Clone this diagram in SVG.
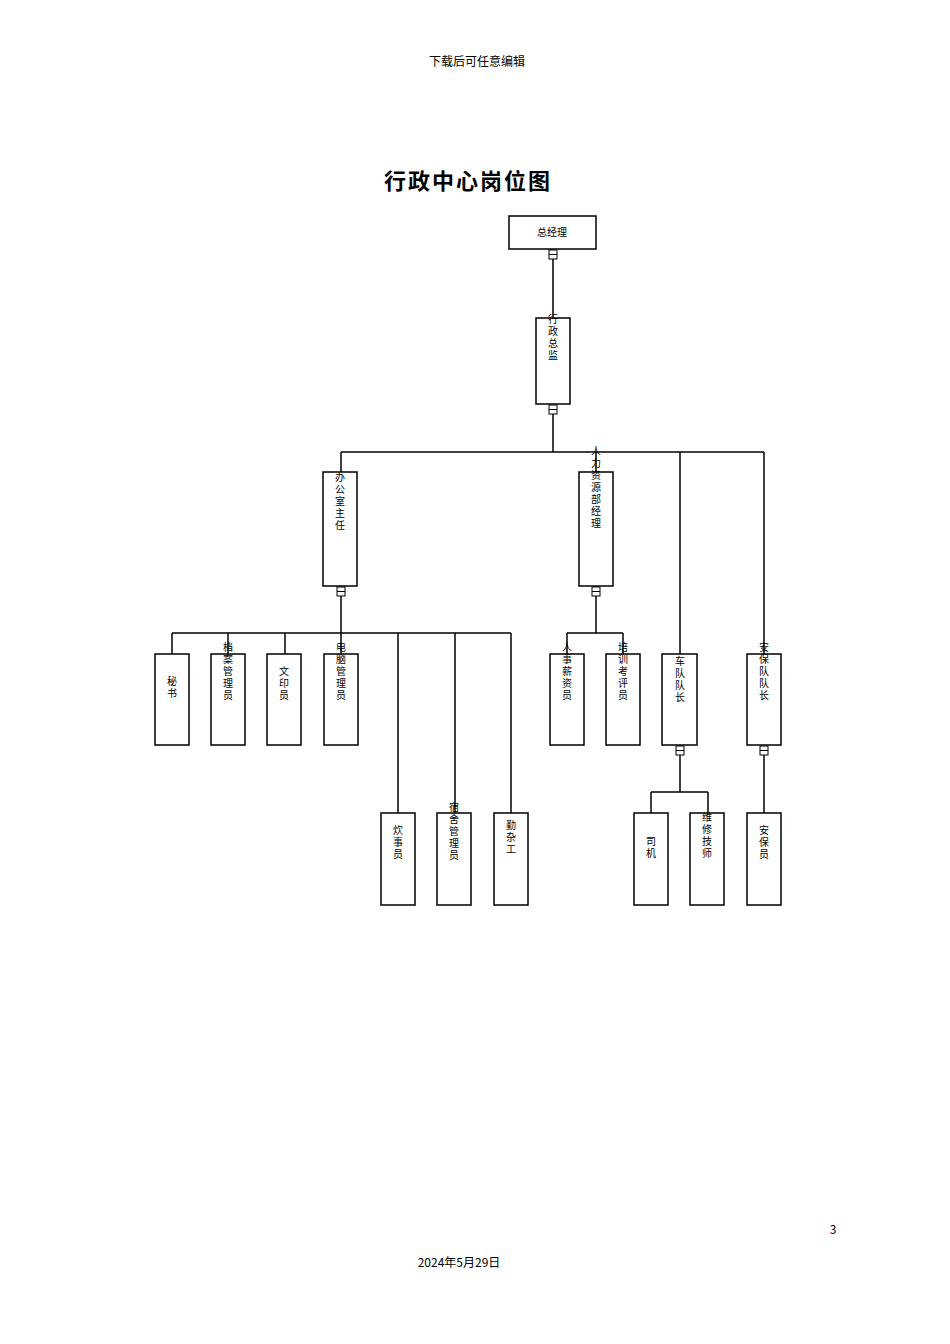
<svg xmlns="http://www.w3.org/2000/svg" width="950" height="1344" viewBox="0 0 950 1344">
<style>
rect.n{fill:#fff;stroke:#000;stroke-width:1.5}
rect.s{fill:#fff;stroke:#000;stroke-width:1}
text{font-family:"Noto Sans CJK SC","Liberation Sans",sans-serif;fill:#000}
.v{font-size:10px;writing-mode:tb;glyph-orientation-vertical:0;text-anchor:middle;letter-spacing:2px}
.c line, .c path{stroke:#000;stroke-width:1.5;fill:none}
</style>
<rect width="950" height="1344" fill="#fff"/>
<text x="477" y="66" font-size="12" text-anchor="middle" fill="#444">下载后可任意编辑</text>
<text x="468" y="189" font-size="22" font-weight="bold" text-anchor="middle" letter-spacing="2">行政中心岗位图</text>
<g class="c">
<line x1="553" y1="259" x2="553" y2="318"/>
<line x1="553" y1="414" x2="553" y2="452"/>
<line x1="341" y1="452" x2="764" y2="452"/>
<line x1="341" y1="452" x2="341" y2="472"/>
<line x1="596" y1="452" x2="596" y2="472"/>
<line x1="680" y1="452" x2="680" y2="654"/>
<line x1="764" y1="452" x2="764" y2="654"/>
<line x1="341" y1="596" x2="341" y2="633"/>
<line x1="172" y1="633" x2="511" y2="633"/>
<line x1="172" y1="633" x2="172" y2="654"/>
<line x1="228" y1="633" x2="228" y2="654"/>
<line x1="285" y1="633" x2="285" y2="654"/>
<line x1="341" y1="633" x2="341" y2="654"/>
<line x1="398" y1="633" x2="398" y2="813"/>
<line x1="455" y1="633" x2="455" y2="813"/>
<line x1="511" y1="633" x2="511" y2="813"/>
<line x1="596" y1="596" x2="596" y2="633"/>
<line x1="567" y1="633" x2="623" y2="633"/>
<line x1="567" y1="633" x2="567" y2="654"/>
<line x1="623" y1="633" x2="623" y2="654"/>
<line x1="680" y1="755" x2="680" y2="792"/>
<line x1="651" y1="792" x2="708" y2="792"/>
<line x1="651" y1="792" x2="651" y2="813"/>
<line x1="708" y1="792" x2="708" y2="813"/>
<line x1="764" y1="755" x2="764" y2="813"/>
</g>
<g id="squares">
<rect class="s" x="549" y="250" width="8" height="9"/><line x1="549" y1="254.5" x2="557" y2="254.5" stroke="#000"/>
<rect class="s" x="549" y="405" width="8" height="9"/><line x1="549" y1="409.5" x2="557" y2="409.5" stroke="#000"/>
<rect class="s" x="337" y="587" width="8" height="9"/><line x1="337" y1="591.5" x2="345" y2="591.5" stroke="#000"/>
<rect class="s" x="592" y="587" width="8" height="9"/><line x1="592" y1="591.5" x2="600" y2="591.5" stroke="#000"/>
<rect class="s" x="676" y="746" width="8" height="9"/><line x1="676" y1="750.5" x2="684" y2="750.5" stroke="#000"/>
<rect class="s" x="760" y="746" width="8" height="9"/><line x1="760" y1="750.5" x2="768" y2="750.5" stroke="#000"/>
</g>
<g id="n1"><rect class="n" x="509" y="216" width="87" height="33"/><text x="552" y="236" font-size="10" text-anchor="middle">总经理</text></g>
<g id="n2"><rect class="n" x="536" y="318" width="34" height="86"/><text class="v" x="553" y="338">行政总监</text></g>
<g id="n3"><rect class="n" x="323" y="472" width="34" height="114"/><text class="v" x="340" y="502">办公室主任</text></g>
<g id="n4"><rect class="n" x="579" y="472" width="34" height="114"/><text class="v" x="596" y="488">人力资源部经理</text></g>
<g id="n5"><rect class="n" x="662" y="654" width="35" height="91"/><text class="v" x="680" y="680">车队队长</text></g>
<g id="n6"><rect class="n" x="747" y="654" width="34" height="91"/><text class="v" x="764" y="672">安保队队长</text></g>
<g id="n7"><rect class="n" x="155" y="654" width="34" height="91"/><text class="v" x="172" y="688">秘书</text></g>
<g id="n8"><rect class="n" x="211" y="654" width="34" height="91"/><text class="v" x="228" y="672">档案管理员</text></g>
<g id="n9"><rect class="n" x="267" y="654" width="34" height="91"/><text class="v" x="284" y="684">文印员</text></g>
<g id="n10"><rect class="n" x="324" y="654" width="34" height="91"/><text class="v" x="341" y="672">电脑管理员</text></g>
<g id="n11"><rect class="n" x="550" y="654" width="34" height="91"/><text class="v" x="567" y="672">人事薪资员</text></g>
<g id="n12"><rect class="n" x="606" y="654" width="34" height="91"/><text class="v" x="623" y="672">培训考评员</text></g>
<g id="n13"><rect class="n" x="381" y="813" width="34" height="92"/><text class="v" x="398" y="843">炊事员</text></g>
<g id="n14"><rect class="n" x="437" y="813" width="34" height="92"/><text class="v" x="454" y="832">宿舍管理员</text></g>
<g id="n15"><rect class="n" x="494" y="813" width="34" height="92"/><text class="v" x="511" y="838">勤杂工</text></g>
<g id="n16"><rect class="n" x="634" y="813" width="34" height="92"/><text class="v" x="651" y="848">司机</text></g>
<g id="n17"><rect class="n" x="690" y="813" width="34" height="92"/><text class="v" x="707" y="836">维修技师</text></g>
<g id="n18"><rect class="n" x="747" y="813" width="34" height="92"/><text class="v" x="764" y="843">安保员</text></g>
<text x="833" y="1234" font-size="12" text-anchor="middle">3</text>
<text x="459" y="1267" font-size="12" text-anchor="middle">2024年5月29日</text>
</svg>
